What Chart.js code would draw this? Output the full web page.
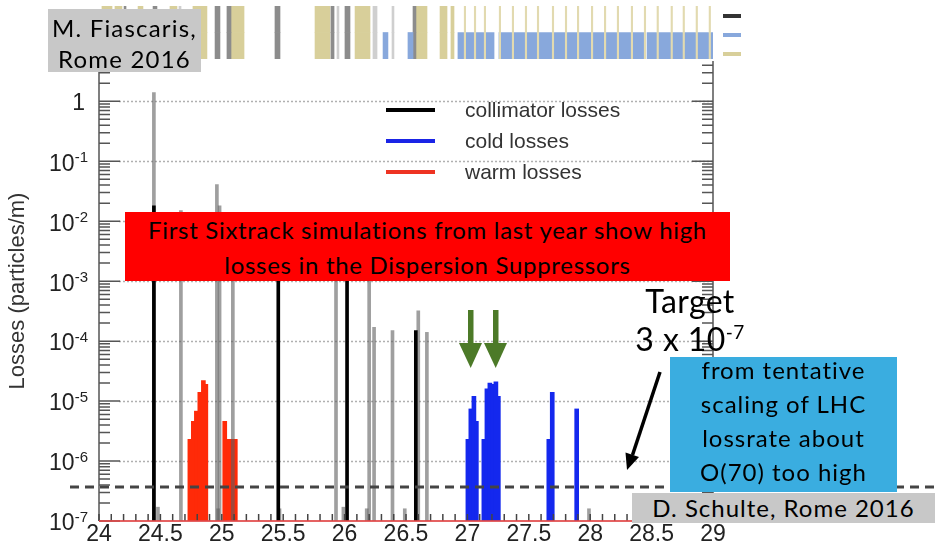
<!DOCTYPE html>
<html>
<head>
<meta charset="utf-8">
<title>Losses along the dispersion suppressor</title>
<script src="https://cdn.jsdelivr.net/npm/chart.js@4.4.0/dist/chart.umd.min.js"></script>
<style>
  html, body { margin: 0; padding: 0; background: #fff; }
  #wrap { position: relative; width: 935px; height: 546px; overflow: hidden; background: #fff; }
  #wrap canvas { position: absolute; left: 0; top: 0; }
  .note { position: absolute; text-align: center; color: #000; font-family: 'Lato', sans-serif; white-space: nowrap; }
  .grey { background: #c8c8c8; }
  .lg-sw { position: absolute; left: 386px; width: 49px; height: 4px; }
  .lg-tx { position: absolute; left: 465px; font-family: 'Liberation Sans', Arial, sans-serif; font-size: 21px; line-height: 24px; color: #333; }
  .key { position: absolute; left: 723px; width: 18px; height: 4px; }
</style>
</head>
<body>
<div id="wrap">
  <canvas id="lossChart" width="935" height="546"></canvas>
  <canvas id="layoutStrip" width="935" height="64"></canvas>

  <div class="key" style="top:14px;background:#333"></div>
  <div class="key" style="top:33px;background:#88a8dc"></div>
  <div class="key" style="top:52px;background:#d8cf9a"></div>

  <div class="lg-sw" style="top:108px;background:#000"></div>
  <div class="lg-tx" style="top:98px">collimator losses</div>
  <div class="lg-sw" style="top:139px;background:#1a24e6"></div>
  <div class="lg-tx" style="top:129px">cold losses</div>
  <div class="lg-sw" style="top:170px;background:#ee3322"></div>
  <div class="lg-tx" style="top:160px">warm losses</div>

  <div class="note grey" style="left:48px;top:9px;width:153px;height:63px;font-size:24px;letter-spacing:1.2px;line-height:31px;padding-top:3px;box-sizing:border-box">M. Fiascaris,<br>Rome 2016</div>

  <div class="note" style="left:125px;top:212px;width:605px;height:69px;background:#ff0000;font-size:24px;letter-spacing:0.7px;line-height:35px">First Sixtrack simulations from last year show high<br>losses in the Dispersion Suppressors</div>

  <div class="note" style="left:620px;top:282px;width:140px;font-size:32px;letter-spacing:0.4px;line-height:38px">Target<br>3 x 10<span style="font-size:19px;position:relative;top:-12px">-7</span></div>

  <div class="note" style="left:670px;top:357px;width:227px;height:135px;background:#3aade0;font-size:24px;letter-spacing:1px;line-height:34px;padding-top:0;box-sizing:border-box"><div style="position:relative;top:-4px">from tentative<br>scaling of LHC<br>lossrate about<br>O(70) too high</div></div>

  <div class="note grey" style="left:632px;top:493px;width:303px;height:30px;font-size:24px;letter-spacing:1px;line-height:30px">D. Schulte, Rome 2016</div>

  <svg width="935" height="546" style="position:absolute;left:0;top:0;pointer-events:none">
    <g fill="#4c7a28">
      <rect x="468" y="310" width="5.5" height="36"/>
      <polygon points="459,343 482,343 470.7,368"/>
      <rect x="493" y="310" width="5.5" height="36"/>
      <polygon points="484,343 507,343 495.7,368"/>
    </g>
    <line x1="660" y1="372" x2="632.5" y2="455" stroke="#000" stroke-width="3.5"/>
    <polygon points="627,470 639,457 625.5,452.5" fill="#000"/>
  </svg>
</div>

<script>
// main plot: positions along the ring (km) and loss values (particles/m)
const xTickValues = [24, 24.5, 25, 25.5, 26, 26.5, 27, 27.5, 28, 28.5, 29];
const yDecades = [1, 1e-1, 1e-2, 1e-3, 1e-4, 1e-5, 1e-6, 1e-7];
const targetLoss = 3.7e-7;

const collimatorPos = [24.447, 25.46, 26.02, 26.58];
const collimatorVal = [0.018, 0.005, 0.004, 1.5e-4];

const collimatorFaintPos = [24.447, 24.667, 24.96, 24.982, 25.09, 25.93, 26.2, 26.24, 26.39, 26.6, 26.67,
                            24.48, 24.97, 25.47, 25.99, 26.18, 26.49, 27.99];
const collimatorFaintVal = [1.4, 0.015, 0.041, 0.018, 0.006, 0.003, 0.005, 1.7e-4, 1.5e-4, 3.2e-4, 1.4e-4,
                            1.7e-7, 1.6e-7, 1.6e-7, 1.7e-7, 1.6e-7, 1.6e-7, 1.6e-7];

const coldPos = [27.004, 27.028, 27.053, 27.073, 27.134, 27.159, 27.183, 27.207, 27.232, 27.252, 27.663, 27.691, 27.89];
const coldVal = [2.3e-6, 7.4e-6, 1.2e-5, 4.6e-6, 2.3e-6, 1.6e-5, 2.0e-5, 1.9e-5, 2.1e-5, 1.2e-5, 2.3e-6, 1.4e-5, 7.4e-6];

const warmPos = [24.74, 24.768, 24.793, 24.821, 24.85, 24.87, 25.024, 25.057, 25.089, 25.11];
const warmVal = [2.3e-6, 4.6e-6, 6.8e-6, 1.4e-5, 2.2e-5, 1.9e-5, 4.6e-6, 2.3e-6, 2.3e-6, 2.3e-6];

// layout strip: element extents along the ring (km)
const magnetRanges = [[24.024, 24.106], [24.130, 24.187], [24.318, 24.358], [24.578, 24.635], [24.765, 24.879],
                      [25.075, 25.181], [25.759, 25.881], [26.085, 26.207], [26.581, 26.671], [26.777, 26.834], [26.866, 26.891]];
const collRanges = [[24.204, 24.220], [24.440, 24.472], [24.945, 24.985], [25.042, 25.075], [25.433, 25.474],
                    [25.889, 25.914], [26.003, 26.044], [26.557, 26.581]];
const faintRanges = [[24.651, 24.668], [25.938, 25.954], [26.231, 26.264], [26.386, 26.402]];
const coldRanges = [[26.313, 26.353], [26.516, 26.557], [26.923, 27.217], [27.257, 28.446], [28.463, 29.0]];
const interconnects = [26.980, 27.062, 27.143, 27.265, 27.371, 27.477, 27.575, 27.697, 27.803, 27.901,
                       28.015, 28.121, 28.226, 28.340, 28.446, 28.550, 28.664, 28.762, 28.868, 28.974];

function points(xs, ys) {
    return xs.map((x, i) => ({ x: x, y: ys[i] }));
}

function rows(ranges, names) {
    return ranges.flatMap(r => names.map(n => ({ x: r, y: n })));
}

const LABEL_FONT = '"Liberation Sans", Arial, sans-serif';

// axes, inward ticks, dotted grid, exponent labels and the target line
const frame = {
    id: 'frame',
    beforeDatasetsDraw(chart) {
        const { ctx, chartArea: a, scales: { y } } = chart;
        ctx.save();
        ctx.strokeStyle = '#b0b0b0';
        ctx.lineWidth = 1.5;
        ctx.setLineDash([2, 2]);
        yDecades.forEach(v => {
            if (v <= y.min) return;
            const py = Math.round(y.getPixelForValue(v)) + 0.5;
            ctx.beginPath();
            ctx.moveTo(a.left + 20, py);
            ctx.lineTo(a.right, py);
            ctx.stroke();
        });
        ctx.restore();
    },
    afterDatasetsDraw(chart) {
        const { ctx, chartArea: a, scales: { x, y } } = chart;
        ctx.save();
        // target level
        const ty = y.getPixelForValue(targetLoss);
        ctx.strokeStyle = '#444';
        ctx.lineWidth = 3;
        ctx.setLineDash([9, 6]);
        ctx.beginPath();
        ctx.moveTo(70, ty);
        ctx.lineTo(935, ty);
        ctx.stroke();
        ctx.setLineDash([]);

        // frame
        ctx.strokeStyle = '#555';
        ctx.lineWidth = 1.5;
        ctx.beginPath();
        ctx.moveTo(a.left, a.top); ctx.lineTo(a.left, a.bottom);
        ctx.moveTo(a.right, a.top); ctx.lineTo(a.right, a.bottom);
        ctx.stroke();

        // y ticks (inward, both sides)
        yDecades.forEach(d => {
            const py = y.getPixelForValue(d);
            ctx.beginPath();
            ctx.moveTo(a.left, py); ctx.lineTo(a.left + 21, py);
            ctx.moveTo(a.right, py); ctx.lineTo(a.right - 21, py);
            ctx.stroke();
            for (let m = 2; m <= 9; m++) {
                const v = m * d;
                if (v > y.max) break;
                const pm = y.getPixelForValue(v);
                ctx.beginPath();
                ctx.moveTo(a.left, pm); ctx.lineTo(a.left + 11, pm);
                ctx.moveTo(a.right, pm); ctx.lineTo(a.right - 11, pm);
                ctx.stroke();
            }
        });

        // x ticks every 0.1
        ctx.strokeStyle = '#444';
        for (let i = 0; i <= 50; i++) {
            const px = x.getPixelForValue(24 + i * 0.1);
            ctx.beginPath();
            ctx.moveTo(px, a.bottom); ctx.lineTo(px, a.bottom - 7);
            ctx.stroke();
        }
        ctx.strokeStyle = 'rgba(225,70,70,0.85)';
        ctx.lineWidth = 2;
        ctx.beginPath();
        ctx.moveTo(a.left, a.bottom); ctx.lineTo(a.right, a.bottom);
        ctx.stroke();

        // y labels with superscript exponents
        ctx.fillStyle = '#222';
        ctx.textBaseline = 'middle';
        ctx.textAlign = 'right';
        const right = a.left - 11;
        yDecades.forEach(d => {
            const py = y.getPixelForValue(d);
            const e = Math.round(Math.log10(d));
            if (e === 0) {
                ctx.font = '23px ' + LABEL_FONT;
                ctx.fillText('1', right - 3, py + 2);
                return;
            }
            const sup = '-' + (-e);
            ctx.font = '15px ' + LABEL_FONT;
            const ws = ctx.measureText(sup).width;
            ctx.fillText(sup, right, py - 3);
            ctx.font = '23px ' + LABEL_FONT;
            ctx.fillText('10', right - ws, py + 3);
        });
        ctx.restore();
    }
};

new Chart(document.getElementById('lossChart'), {
    type: 'bar',
    data: {
        datasets: [
            { label: 'collimator losses', data: points(collimatorPos, collimatorVal), backgroundColor: '#000', barThickness: 3, order: 0 },
            { label: 'collimator losses (other)', data: points(collimatorFaintPos, collimatorFaintVal), backgroundColor: 'rgba(95,95,95,0.6)', barThickness: 3, order: 1 },
            { label: 'cold losses', data: points(coldPos, coldVal), backgroundColor: '#1428ee', barThickness: 4, order: 2 },
            { label: 'warm losses', data: points(warmPos, warmVal), backgroundColor: '#ff2a08', barThickness: 4, order: 3 }
        ]
    },
    options: {
        responsive: false,
        animation: false,
        devicePixelRatio: 1,
        datasets: { bar: { grouped: false } },
        layout: { padding: { left: 0, right: 222, top: 61, bottom: 0 } },
        plugins: { legend: { display: false }, tooltip: { enabled: false } },
        scales: {
            x: {
                type: 'linear', min: 24, max: 29, offset: false,
                grid: { display: false, offset: false, drawTicks: false },
                border: { display: false },
                afterBuildTicks: s => { s.ticks = xTickValues.map(v => ({ value: v })); },
                ticks: {
                    color: '#222', font: { family: LABEL_FONT, size: 23 }, padding: 0, maxRotation: 0, autoSkip: false,
                    callback: v => String(v)
                },
                afterFit: s => { s.height = 25; }
            },
            y: {
                type: 'logarithmic', min: 1e-7, max: 4.7,
                grid: { display: false, drawTicks: false },
                border: { display: false },
                ticks: { display: false },
                title: { display: true, text: 'Losses (particles/m)', color: '#333', font: { family: LABEL_FONT, size: 22 }, padding: { top: 5, bottom: 0 } },
                afterFit: s => { s.width = 99; }
            }
        }
    },
    plugins: [frame]
});

new Chart(document.getElementById('layoutStrip'), {
    type: 'bar',
    data: {
        labels: ['upper', 'lower'],
        datasets: [
            { label: 'interconnects', data: rows(interconnects.map(p => [p - 0.006, p + 0.006]), ['upper', 'lower']), backgroundColor: '#e2dab0', order: 0 },
            { label: 'cold elements', data: rows(coldRanges, ['lower']), backgroundColor: '#88a8dc', order: 1 },
            { label: 'collimators', data: rows(collRanges, ['upper', 'lower']), backgroundColor: '#8c8c8c', order: 2 },
            { label: 'other', data: rows(faintRanges, ['upper', 'lower']), backgroundColor: '#cfcfcf', order: 3 },
            { label: 'warm elements', data: rows(magnetRanges, ['upper', 'lower']), backgroundColor: '#d8cf9a', order: 4 }
        ]
    },
    options: {
        indexAxis: 'y',
        responsive: false,
        animation: false,
        devicePixelRatio: 1,
        datasets: { bar: { grouped: false, barPercentage: 1, categoryPercentage: 1 } },
        layout: { padding: { left: 99, right: 222, top: 6, bottom: 5 } },
        plugins: { legend: { display: false }, tooltip: { enabled: false } },
        scales: {
            x: { type: 'linear', min: 24, max: 29, display: false },
            y: { type: 'category', display: false, offset: true }
        }
    }
});
</script>
</body>
</html>
